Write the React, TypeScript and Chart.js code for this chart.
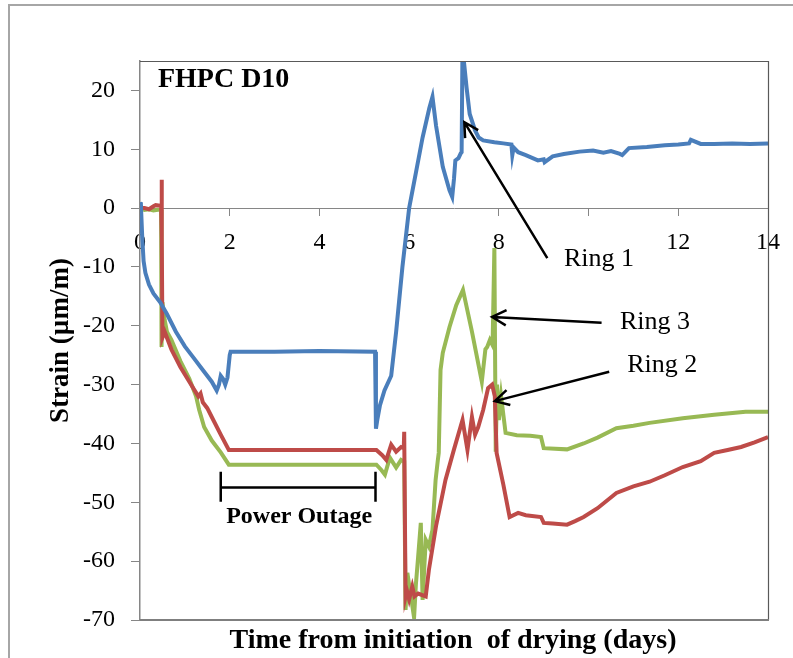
import React, { useEffect, useRef } from 'react';
import { Chart, registerables } from 'chart.js';

Chart.register(...registerables);

// ---------- data ----------
const ring1X = [0, 0.02, 0.05, 0.08, 0.12, 0.2, 0.3, 0.45, 0.6, 0.8, 1.0, 1.2, 1.4, 1.6, 1.71, 1.76, 1.8, 1.85, 1.9, 1.95, 2.0, 2.02, 3.0, 4.0, 5.24, 5.26, 5.29, 5.35, 5.45, 5.6, 5.71, 5.85, 6.0, 6.15, 6.3, 6.45, 6.52, 6.6, 6.75, 6.9, 6.96, 7.0, 7.03, 7.1, 7.15, 7.17, 7.19, 7.22, 7.28, 7.35, 7.47, 7.55, 7.65, 7.9, 8.1, 8.28, 8.3, 8.33, 8.43, 8.6, 8.87, 9.0, 9.02, 9.2, 9.45, 9.8, 10.1, 10.33, 10.5, 10.7, 10.75, 10.9, 11.3, 11.7, 12.0, 12.24, 12.28, 12.5, 12.8, 13.2, 13.6, 14.0];
const ring1Y = [1, 0.5, -5, -9, -11, -13, -14.5, -16, -18, -21, -23.5, -25.5, -27.5, -29.5, -31, -30, -28.5, -29, -30, -28.8, -25, -24.4, -24.4, -24.3, -24.4, -37.5, -36, -33.5, -31, -28.5, -21, -10, 0, 6, 12, 17, 18.9, 14, 7, 3, 1.9, 5, 8.1, 8.5, 9.3, 9.5, 28, 25, 20.5, 16, 13.2, 12, 11.5, 11.2, 11, 10.8, 9, 10.3, 9.5, 9, 8.1, 8.3, 7.8, 8.8, 9.2, 9.6, 9.8, 9.4, 9.7, 9.2, 9.0, 10.2, 10.4, 10.7, 10.8, 11.0, 11.6, 10.9, 10.9, 11.0, 10.9, 11.0];

const ring2X = [0, 0.1, 0.2, 0.3, 0.35, 0.45, 0.47, 0.48, 0.49, 0.5, 0.55, 0.7, 0.9, 1.1, 1.3, 1.35, 1.4, 1.5, 1.6, 1.8, 1.98, 3.0, 4.0, 5.27, 5.4, 5.49, 5.6, 5.71, 5.82, 5.88, 5.89, 5.92, 5.95, 6.0, 6.07, 6.12, 6.2, 6.37, 6.44, 6.6, 6.81, 7.0, 7.19, 7.3, 7.4, 7.47, 7.54, 7.65, 7.76, 7.85, 7.91, 7.95, 8.1, 8.24, 8.43, 8.6, 8.94, 9.0, 9.2, 9.52, 9.7, 9.89, 10.2, 10.62, 11.0, 11.36, 11.7, 12.1, 12.5, 12.8, 13.1, 13.4, 13.7, 14.0];
const ring2Y = [0, 0, -0.2, 0.3, 0.5, 0.4, 0.5, 4.8, -5, -22, -21, -24, -27, -29.5, -32, -31.5, -33, -34, -35.5, -38.5, -41.1, -41.1, -41.1, -41.1, -42, -42.8, -40.2, -41.4, -40.6, -40.8, -38, -66, -65, -66.5, -64.3, -66, -65.5, -66, -61.5, -54, -46.2, -41, -36, -41.1, -35.5, -38.5, -37.2, -34.3, -30.6, -30, -32, -41.6, -47, -52.5, -51.8, -52.2, -52.5, -53.5, -53.6, -53.8, -53.2, -52.5, -51, -48.4, -47.3, -46.5, -45.4, -44, -43, -41.6, -41.1, -40.6, -39.8, -38.9];

const ring3X = [0, 0.1, 0.2, 0.3, 0.4, 0.47, 0.48, 0.5, 0.55, 0.6, 0.7, 0.9, 1.1, 1.25, 1.32, 1.43, 1.6, 1.8, 1.98, 3.0, 4.0, 5.27, 5.38, 5.46, 5.57, 5.71, 5.82, 5.89, 5.92, 5.96, 6.04, 6.11, 6.15, 6.2, 6.26, 6.3, 6.37, 6.44, 6.52, 6.59, 6.64, 6.66, 6.7, 6.75, 6.9, 7.05, 7.2, 7.4, 7.62, 7.7, 7.74, 7.8, 7.86, 7.9, 7.93, 7.96, 8.0, 8.05, 8.15, 8.4, 8.7, 8.94, 9.0, 9.52, 9.89, 10.2, 10.62, 11.0, 11.36, 12.1, 12.8, 13.5, 14.0];
const ring3Y = [0, -0.3, -0.2, -0.4, -0.3, -0.3, -23.6, -16, -19, -21, -22.4, -26, -29, -32, -34.3, -37.2, -39.5, -41.5, -43.6, -43.6, -43.6, -43.6, -44.5, -45.3, -42.4, -44.1, -42.8, -43.1, -68.3, -62, -66, -69.6, -64, -59.3, -53.5, -66.6, -56.4, -57.5, -54.7, -46.2, -42.8, -41.6, -27.5, -24.6, -20.2, -16.5, -13.9, -21, -29.5, -24, -23.6, -22.4, -23.3, -6.8, -41.4, -30, -36, -32, -38.2, -38.6, -38.7, -38.9, -40.8, -41, -40, -39, -37.4, -37, -36.5, -35.7, -35.1, -34.6, -34.6];

const xTicks = [0, 2, 4, 6, 8, 10, 12, 14];
const yTicks = [-70, -60, -50, -40, -30, -20, -10, 0, 10, 20];
const hiddenXTickLabels = [10];

const seriesNames = ['Ring 1', 'Ring 2', 'Ring 3'];
const seriesColors = ['#4A7EBB', '#BE4B48', '#98B954'];

const chartTitle = 'FHPC D10';
const xTitle = 'Time from initiation  of drying (days)';
const yTitle = 'Strain (\u00B5m/m)';
const outageLabel = 'Power Outage';

// annotation anchors in data units: [tailX, tailY, tipX, tipY, textX, textY(baseline)]
const ring1Arrow = [9.08, -8.5, 7.23, 14.6, 9.45, -9.9];
const ring3Arrow = [10.29, -19.5, 7.85, -18.5, 10.7, -20.6];
const ring2Arrow = [10.46, -27.8, 7.91, -32.8, 10.86, -27.9];
const outageSpan = [1.8, 5.25, -47.5, -44.8, -49.9, -53.5]; // x1, x2, y, capTop, capBottom, textBaseline
const titleAnchor = [0.4, 20.5];

const FONT = '"Liberation Serif", "Times New Roman", serif';

const toPts = (xs: number[], ys: number[]) => xs.map((x, i) => ({ x, y: ys[i] }));

function drawArrow(ctx: CanvasRenderingContext2D, x1: number, y1: number, x2: number, y2: number) {
  const a = Math.atan2(y2 - y1, x2 - x1);
  const len = 16;
  const spread = 0.5;
  ctx.beginPath();
  ctx.moveTo(x1, y1);
  ctx.lineTo(x2, y2);
  ctx.moveTo(x2 - len * Math.cos(a - spread), y2 - len * Math.sin(a - spread));
  ctx.lineTo(x2, y2);
  ctx.lineTo(x2 - len * Math.cos(a + spread), y2 - len * Math.sin(a + spread));
  ctx.stroke();
}

const decorPlugin = {
  id: 'decor',
  beforeDraw(chart: any) {
    const ctx = chart.ctx as CanvasRenderingContext2D;
    ctx.save();
    ctx.fillStyle = '#ffffff';
    ctx.fillRect(0, 0, chart.width, chart.height);
    ctx.strokeStyle = '#a6a6a6';
    ctx.lineWidth = 2;
    ctx.strokeRect(9, 5, chart.width + 20, chart.height + 20);
    ctx.restore();
  },
  afterDatasetsDraw(chart: any) {
    const ctx = chart.ctx as CanvasRenderingContext2D;
    const xs = chart.scales.x;
    const ys = chart.scales.y;
    const ca = chart.chartArea;
    const px = (v: number) => xs.getPixelForValue(v);
    const py = (v: number) => ys.getPixelForValue(v);
    ctx.save();

    // plot border
    ctx.strokeStyle = '#595959';
    ctx.lineWidth = 1.2;
    ctx.beginPath();
    ctx.moveTo(ca.left, ca.top + 0.5);
    ctx.lineTo(ca.right + 0.5, ca.top + 0.5);
    ctx.lineTo(ca.right + 0.5, ca.bottom);
    ctx.stroke();
    ctx.strokeStyle = '#7f7f7f';
    ctx.lineWidth = 2;
    ctx.beginPath();
    ctx.moveTo(ca.left, ca.bottom);
    ctx.lineTo(ca.right + 1, ca.bottom);
    ctx.stroke();

    // chart title inside plot
    ctx.fillStyle = '#000';
    ctx.textAlign = 'left';
    ctx.textBaseline = 'alphabetic';
    ctx.font = `bold 28px ${FONT}`;
    ctx.fillText(chartTitle, px(titleAnchor[0]), py(titleAnchor[1]));

    // arrows and ring labels
    ctx.strokeStyle = '#000';
    ctx.lineWidth = 2.5;
    ctx.font = `26px ${FONT}`;
    const arrows = [ring1Arrow, ring3Arrow, ring2Arrow];
    const names = [seriesNames[0], seriesNames[2], seriesNames[1]];
    arrows.forEach((a, i) => {
      drawArrow(ctx, px(a[0]), py(a[1]), px(a[2]), py(a[3]));
      ctx.fillText(names[i], px(a[4]), py(a[5]));
    });

    // power outage bracket
    const [ox1, ox2, oy, oc1, oc2, ot] = outageSpan;
    ctx.lineWidth = 2.5;
    ctx.beginPath();
    ctx.moveTo(px(ox1), py(oy));
    ctx.lineTo(px(ox2), py(oy));
    ctx.moveTo(px(ox1), py(oc1));
    ctx.lineTo(px(ox1), py(oc2));
    ctx.moveTo(px(ox2), py(oc1));
    ctx.lineTo(px(ox2), py(oc2));
    ctx.stroke();
    ctx.font = `bold 24px ${FONT}`;
    ctx.textAlign = 'center';
    ctx.fillText(outageLabel, (px(ox1) + px(ox2)) / 2 + 1, py(ot));

    // axis titles
    ctx.font = `bold 28px ${FONT}`;
    ctx.fillText(xTitle, (ca.left + ca.right) / 2 - 1, ca.bottom + 28);
    ctx.save();
    ctx.translate(68, (ca.top + ca.bottom) / 2);
    ctx.rotate(-Math.PI / 2);
    ctx.font = `bold 27px ${FONT}`;
    ctx.fillText(yTitle, 0, 0);
    ctx.restore();

    ctx.restore();
  },
};

export default function App() {
  const ref = useRef<HTMLCanvasElement | null>(null);

  useEffect(() => {
    if (!ref.current) return;
    const data = [toPts(ring1X, ring1Y), toPts(ring2X, ring2Y), toPts(ring3X, ring3Y)];
    const chart = new Chart(ref.current, {
      type: 'line',
      data: {
        datasets: data.map((d, i) => ({
          label: seriesNames[i],
          data: d,
          borderColor: seriesColors[i],
          backgroundColor: seriesColors[i],
          borderWidth: 4,
          pointRadius: 0,
          tension: 0,
          fill: false,
        })),
      },
      options: {
        responsive: false,
        animation: false,
        layout: { padding: { left: 0, top: 61, right: 16, bottom: 38 } },
        plugins: {
          legend: { display: false },
          tooltip: { enabled: false },
          title: { display: false },
        },
        scales: {
          x: {
            type: 'linear',
            position: { y: 0 },
            min: 0,
            max: 14,
            afterBuildTicks: (s: any) => {
              s.ticks = xTicks.map((v) => ({ value: v }));
            },
            ticks: {
              color: '#000',
              font: { family: FONT, size: 24 },
              padding: 13,
              maxRotation: 0,
              autoSkip: false,
              callback: (v: any) => (hiddenXTickLabels.includes(Number(v)) ? '' : String(v)),
            },
            grid: { drawOnChartArea: false, drawTicks: true, tickLength: 7, color: '#868686' },
            border: { display: true, color: '#868686', width: 1 },
          },
          y: {
            type: 'linear',
            min: -70,
            max: 25,
            afterBuildTicks: (s: any) => {
              s.ticks = yTicks.map((v) => ({ value: v }));
            },
            afterFit: (s: any) => {
              s.width = 140;
            },
            ticks: {
              color: '#000',
              font: { family: FONT, size: 24 },
              padding: 16,
              autoSkip: false,
              callback: (v: any) => String(v),
            },
            grid: { drawOnChartArea: false, drawTicks: true, tickLength: 9, color: '#868686' },
            border: { display: true, color: '#868686', width: 1.5 },
          },
        },
      },
      plugins: [decorPlugin],
    } as any);
    return () => chart.destroy();
  }, []);

  return (
    <div style={{ position: 'fixed', left: 0, top: 0, width: 793, height: 658, background: '#fff' }}>
      <canvas ref={ref} width={793} height={658} style={{ display: 'block' }} />
    </div>
  );
}
